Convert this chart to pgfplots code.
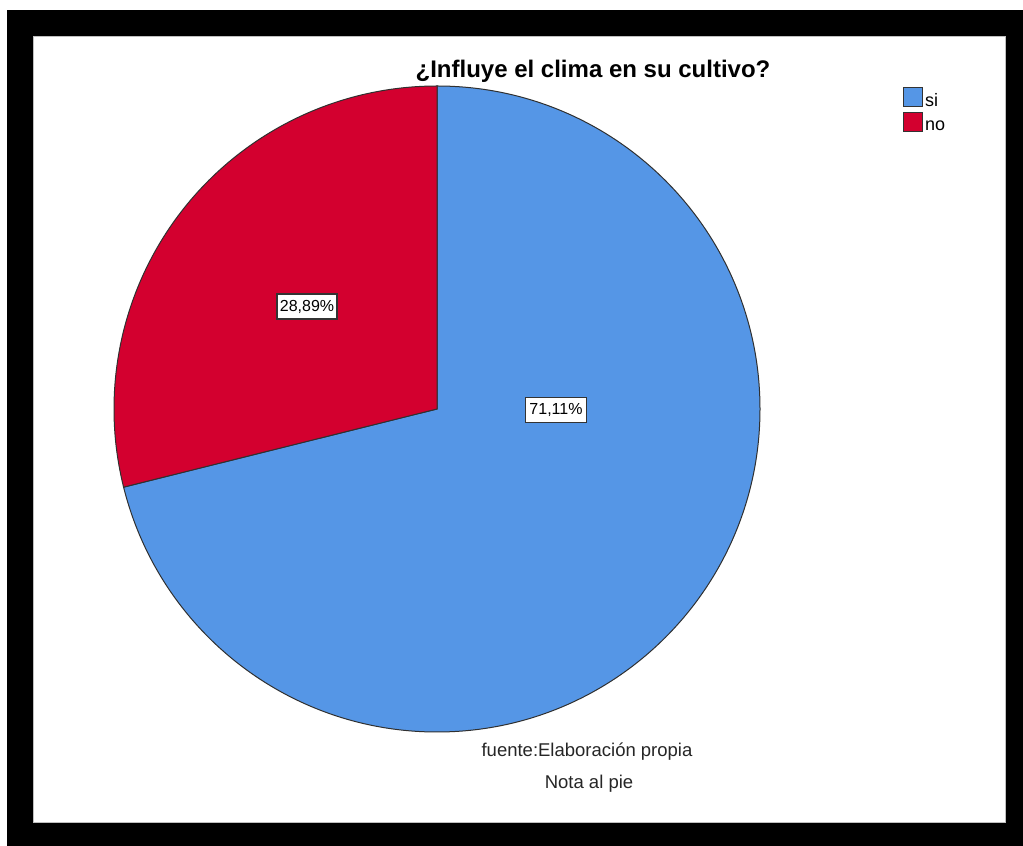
\documentclass[border=0pt]{standalone}
\usepackage{pgfplots}
\usepackage{pgfplotstable}
\pgfplotsset{compat=1.18}
\usepackage{fontspec}
\setmainfont{Liberation Sans}
\definecolor{siblue}{HTML}{5596E6}
\definecolor{nored}{HTML}{D3002F}
\definecolor{edge}{HTML}{303030}
\pgfplotstableread{
label value
si 71.11
no 28.89
}\piedata
\pgfplotstablegetelem{0}{value}\of\piedata
\pgfmathsetmacro\vsi{\pgfplotsretval}
\pgfplotstablegetelem{1}{value}\of\piedata
\pgfmathsetmacro\vno{\pgfplotsretval}
\pgfmathsetmacro\aend{90-3.6*\vsi}
\pgfmathsetmacro\aendno{90+3.6*\vno}
\begin{document}
\begin{tikzpicture}
\begin{axis}[
  scale only axis, width=1023pt, height=846pt,
  xmin=0, xmax=1023, ymin=0, ymax=846,
  enlargelimits=false, hide axis, clip=false,
]
% bounding box
\path (axis cs:0,0) rectangle (axis cs:1023,846);
% frame
\fill[black] (axis cs:7,0) rectangle (axis cs:1023,836);
\fill[white] (axis cs:33,24) rectangle (axis cs:1005,810);
\draw[black!25, line width=0.8pt] (axis cs:33,24) rectangle (axis cs:1005,810);
% pie
\draw[fill=siblue, draw=edge, line width=1pt] (axis cs:437,437) -- ++(90:323pt) arc[start angle=90, end angle=\aend, radius=323pt] -- cycle;
\draw[fill=nored, draw=edge, line width=1pt] (axis cs:437,437) -- ++(90:323pt) arc[start angle=90, end angle=\aendno, radius=323pt] -- cycle;
% labels
\node[fill=white, draw=black!80, line width=1.3pt, inner sep=0pt, minimum width=60pt, minimum height=25pt, font=\fontsize{16}{16}\selectfont] at (axis cs:307,539.5) {28,89\%};
\node[fill=white, draw=black!80, line width=1.3pt, inner sep=0pt, minimum width=61pt, minimum height=25pt, font=\fontsize{16}{16}\selectfont] at (axis cs:556,436) {71,11\%};
% title and notes
\node[anchor=base, font=\fontsize{24}{24}\selectfont\bfseries] at (axis cs:593,768) {¿Influye el clima en su cultivo?};
\node[anchor=base, font=\fontsize{18.5}{18.5}\selectfont, text=black!85] at (axis cs:587,89) {fuente:Elaboración propia};
\node[anchor=base, font=\fontsize{18.5}{18.5}\selectfont, text=black!85] at (axis cs:589,57) {Nota al pie};
% legend
\draw[fill=siblue, draw=black!80, line width=1pt] (axis cs:903,739) rectangle (axis cs:922,758);
\draw[fill=nored, draw=black!80, line width=1pt] (axis cs:903,714) rectangle (axis cs:922,733);
\node[anchor=base west, inner sep=0pt, font=\fontsize{18}{18}\selectfont] at (axis cs:925,739.5) {si};
\node[anchor=base west, inner sep=0pt, font=\fontsize{18}{18}\selectfont] at (axis cs:925,715) {no};
\end{axis}
\end{tikzpicture}
\end{document}
